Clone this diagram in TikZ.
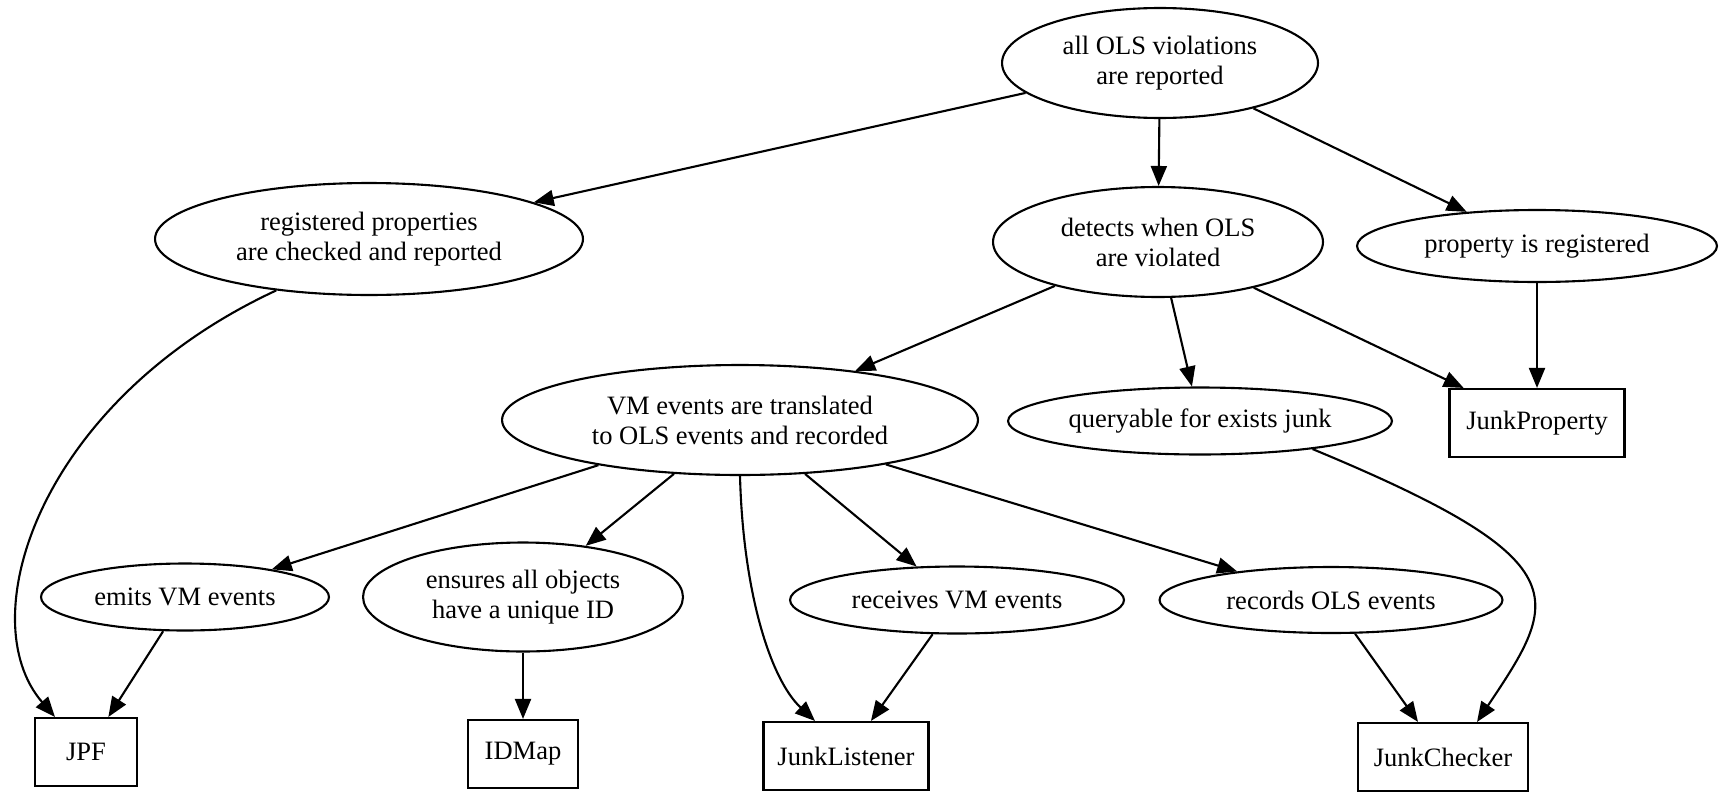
\documentclass[tikz,border=0pt]{standalone}
\usepackage{fontspec}
\setmainfont{Liberation Serif}
\usetikzlibrary{shapes.geometric,arrows.meta,calc}

\tikzset{
    goal/.style={draw, ellipse, line width=1.2pt, inner sep=0pt, align=center,
        font=\fontsize{15.1}{17}\selectfont},
    comp/.style={draw, rectangle, line width=1.2pt, inner sep=0pt,
        minimum height=1.36cm, font=\fontsize{15.1}{17}\selectfont},
    link/.style={line width=1.2pt, -{Triangle[length=4mm,width=3.2mm]}}
}

\begin{document}
\begin{tikzpicture}[x=0.02cm, y=-0.02cm]
        \useasboundingbox (0, 0) rectangle (1719, 791);

        % goals
        \node[goal, minimum width=6.32cm, minimum height=2.2cm] (top) at (1160, 63) {all OLS violations\\are reported};
        \node[goal, minimum width=8.56cm, minimum height=2.24cm] (registered) at (369, 239) {registered properties\\are checked and reported};
        \node[goal, minimum width=6.6cm, minimum height=2.2cm] (detects) at (1158, 242) {detects when OLS\\are violated};
        \node[goal, minimum width=7.2cm, minimum height=1.44cm] (property) at (1537, 246) {property is registered};
        \node[goal, minimum width=9.52cm, minimum height=2.2cm] (vm) at (740, 420) {VM events are translated\\to OLS events and recorded};
        \node[goal, minimum width=7.68cm, minimum height=1.34cm] (queryable) at (1200, 421) {queryable for exists junk};
        \node[goal, minimum width=5.76cm, minimum height=1.34cm] (emits) at (185, 597) {emits VM events};
        \node[goal, minimum width=6.4cm, minimum height=2.18cm] (ensures) at (523, 597) {ensures all objects\\have a unique ID};
        \node[goal, minimum width=6.68cm, minimum height=1.34cm] (receives) at (957, 600) {receives VM events};
        \node[goal, minimum width=6.86cm, minimum height=1.32cm] (records) at (1331, 600) {records OLS events};

        % components
        \node[comp, minimum width=3.5cm] (junkproperty) at (1537, 423) {JunkProperty};
        \node[comp, minimum width=2.04cm] (jpf) at (86, 752) {JPF};
        \node[comp, minimum width=2.2cm] (idmap) at (523, 754) {IDMap};
        \node[comp, minimum width=3.3cm] (junklistener) at (846, 756) {JunkListener};
        \node[comp, minimum width=3.4cm] (junkchecker) at (1443, 757) {JunkChecker};

        \draw[link] (top) -- (registered);
        \draw[link] (top) -- (detects);
        \draw[link] (top) -- (property);
        \draw[link] (detects) -- (vm);
        \draw[link] (detects) -- (queryable);
        \draw[link] (detects) -- (junkproperty);
        \draw[link] (property) -- (junkproperty);
        \draw[link] (vm) -- (emits);
        \draw[link] (vm) -- (ensures);
        \draw[link] (vm) -- (receives);
        \draw[link] (vm) -- (records);
        \draw[link] (emits) -- (jpf);
        \draw[link] (ensures) -- (idmap);
        \draw[link] (receives) -- (junklistener);
        \draw[link] (records) -- (junkchecker);

        % curved ones
        \draw[link] (registered.-151) .. controls +(-237, 110) and +(-85, -98) .. ($(jpf.north)+(-31, 0)$);
        \draw[link] (vm.-90) .. controls +(3, 115) and +(-45, -42) .. ($(junklistener.north)+(-31, 0)$);
        \draw[link] (queryable.-14) .. controls +(270, 112) and +(83, -124) .. ($(junkchecker.north)+(34, 0)$);
    \end{tikzpicture}
\end{document}
